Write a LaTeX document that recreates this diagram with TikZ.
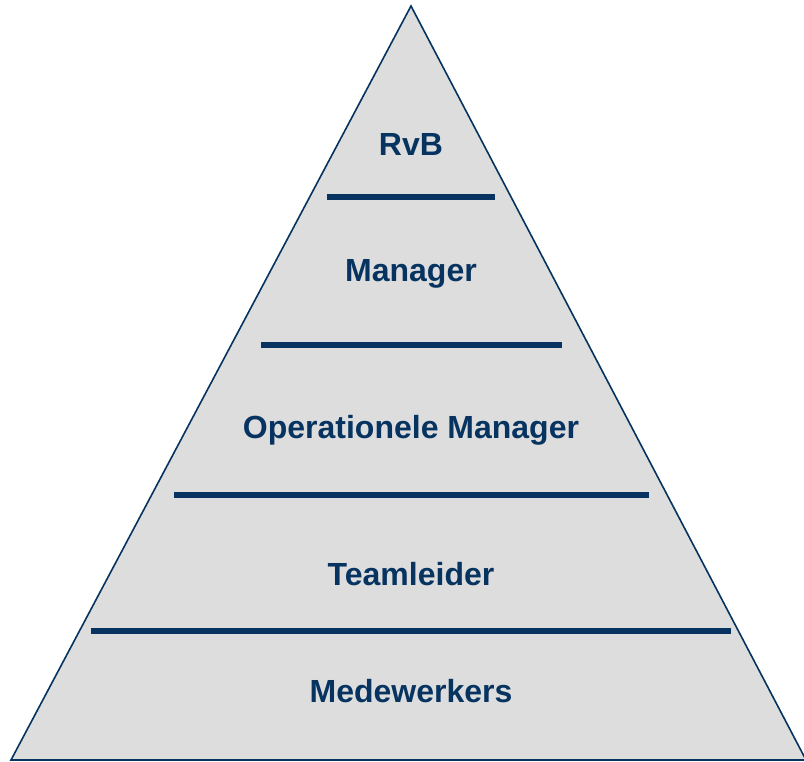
\documentclass[tikz,border=0pt]{standalone}
\usepackage{fontspec}
\setmainfont{Liberation Sans}
\definecolor{pyrblue}{HTML}{06335F}
\definecolor{pyrgrey}{HTML}{DDDDDD}
\usetikzlibrary{positioning,calc}

\begin{document}
\begin{tikzpicture}[
      x=0.75pt, y=-0.75pt,
      tier/.style={text=pyrblue, font=\fontsize{24}{28}\selectfont\bfseries, inner sep=0pt},
      sep/.style={draw=pyrblue, line width=3.8pt},
    ]
    \useasboundingbox (0,0) rectangle (804,762);
    \coordinate (top) at (411,6);
    \coordinate (bl) at (11,760);
    \coordinate (br) at (806,760);
    \filldraw[fill=pyrgrey, draw=pyrblue, line width=1.2pt, line join=miter] (top) -- (br) -- (bl) -- cycle;

    \node[tier] (rvb) at (411,144) {RvB};
    \node[tier] (mgr) at (411,274) {Manager};
    \node[tier] (opm) at (411,430) {Operationele Manager};
    \node[tier] (tl)  at (411,574) {Teamleider};
    \node[tier] (mw)  at (411,691) {Medewerkers};

    \draw[sep] (327,197) -- (495,197);
    \draw[sep] (261,345) -- (562,345);
    \draw[sep] (174,495) -- (649,495);
    \draw[sep] (91,631) -- (731,631);
  \end{tikzpicture}
\end{document}
